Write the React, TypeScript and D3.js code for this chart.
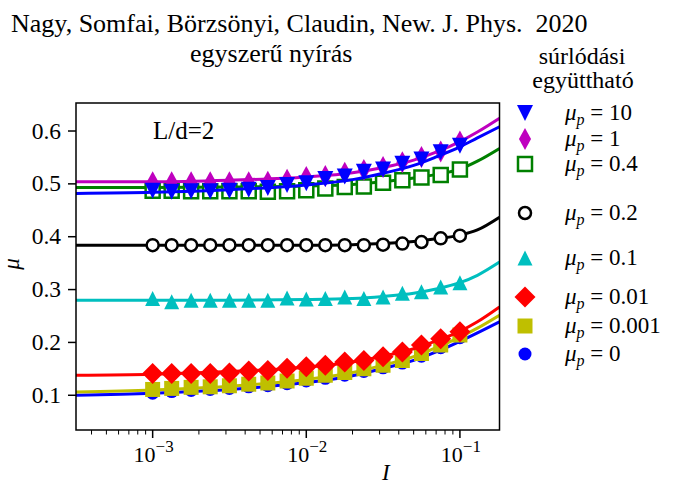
import { FC } from 'react';
import * as d3 from 'd3';

// inertial number at which the markers were measured
const markerI = [0.001, 0.00133, 0.00178, 0.00237, 0.00316, 0.00422, 0.00562, 0.0075, 0.01,
  0.0133, 0.0178, 0.0237, 0.0316, 0.0422, 0.0562, 0.075, 0.1];

// sample points of the fitted curves
const lineI = [0.000317, 0.001, 0.00316, 0.01, 0.02, 0.0316, 0.05, 0.07, 0.1, 0.13, 0.181];

const labels = ['10', '1', '0.4', '0.2', '0.1', '0.01', '0.001', '0'];

const pts10 = [0.487, 0.485, 0.486, 0.486, 0.487, 0.489, 0.492, 0.498, 0.501, 0.509, 0.514, 0.523, 0.527, 0.538, 0.546, 0.560, 0.572];
const pts1 = [0.503, 0.503, 0.503, 0.503, 0.503, 0.503, 0.504, 0.508, 0.513, 0.515, 0.521, 0.526, 0.532, 0.541, 0.551, 0.561, 0.580];
const pts04 = [0.487, 0.487, 0.486, 0.486, 0.486, 0.486, 0.485, 0.486, 0.488, 0.491, 0.494, 0.495, 0.502, 0.507, 0.512, 0.517, 0.527];
const pts02 = [0.384, 0.384, 0.384, 0.384, 0.384, 0.384, 0.384, 0.384, 0.384, 0.384, 0.384, 0.384, 0.385, 0.387, 0.390, 0.397, 0.402];
const pts01 = [0.283, 0.277, 0.280, 0.280, 0.280, 0.280, 0.280, 0.284, 0.282, 0.283, 0.286, 0.283, 0.286, 0.293, 0.296, 0.305, 0.313];
const pts001 = [0.141, 0.141, 0.141, 0.141, 0.142, 0.146, 0.147, 0.151, 0.154, 0.157, 0.163, 0.166, 0.173, 0.182, 0.195, 0.207, 0.220];
const pts0001 = [0.111, 0.113, 0.115, 0.116, 0.118, 0.121, 0.123, 0.127, 0.132, 0.138, 0.143, 0.150, 0.157, 0.166, 0.179, 0.195, 0.214];
const pts0 = [0.104, 0.107, 0.109, 0.111, 0.113, 0.116, 0.118, 0.122, 0.127, 0.132, 0.138, 0.145, 0.152, 0.161, 0.174, 0.190, 0.209];

const fit10 = [0.482, 0.484, 0.489, 0.498, 0.508, 0.520, 0.535, 0.551, 0.570, 0.587, 0.608];
const fit1 = [0.504, 0.504, 0.507, 0.513, 0.521, 0.531, 0.545, 0.560, 0.580, 0.598, 0.624];
const fit04 = [0.493, 0.493, 0.494, 0.496, 0.499, 0.504, 0.511, 0.518, 0.528, 0.543, 0.567];
const fit02 = [0.384, 0.384, 0.384, 0.384, 0.385, 0.387, 0.391, 0.396, 0.403, 0.413, 0.437];
const fit01 = [0.280, 0.280, 0.280, 0.281, 0.283, 0.287, 0.293, 0.301, 0.313, 0.327, 0.352];
const fit001 = [0.138, 0.140, 0.145, 0.153, 0.163, 0.174, 0.188, 0.203, 0.221, 0.239, 0.267];
const fit0001 = [0.106, 0.110, 0.117, 0.130, 0.143, 0.157, 0.173, 0.190, 0.210, 0.227, 0.2515];
const fit0 = [0.100, 0.104, 0.111, 0.124, 0.137, 0.151, 0.166, 0.182, 0.202, 0.218, 0.239];

const yTicks = [0.1, 0.2, 0.3, 0.4, 0.5, 0.6];
const xMajor = [0.001, 0.01, 0.1];
const xMajorExp = ['−3', '−2', '−1'];

const FONT = '"Liberation Serif", "Times New Roman", serif';

type Shape = 'tdown' | 'tup' | 'thin' | 'diamond' | 'square' | 'circle';

// marker outline centred on (0,0)
const markerPath = (shape: Shape, s: number) => {
  const h = s / 2;
  switch (shape) {
    case 'tdown':
      return `M${-h},${-h}L${h},${-h}L0,${h}Z`;
    case 'tup':
      return `M${-h},${h}L${h},${h}L0,${-h}Z`;
    case 'thin':
      return `M0,${-h}L${h * 0.55},0L0,${h}L${-h * 0.55},0Z`;
    case 'diamond':
      return `M0,${-h}L${h},0L0,${h}L${-h},0Z`;
    case 'square':
      return `M${-h},${-h}H${h}V${h}H${-h}Z`;
    default:
      return `M${-h},0A${h},${h} 0 1,0 ${h},0A${h},${h} 0 1,0 ${-h},0Z`;
  }
};

interface Series {
  label: string;
  pts: number[];
  fit: number[];
  color: string;
  shape: Shape;
  size: number;
  open?: boolean;
  legendY: number;
}

// drawing order: bottom to top
const series: Series[] = [
  { label: labels[7], pts: pts0, fit: fit0, color: '#0000ff', shape: 'circle', size: 13, legendY: 354 },
  { label: labels[6], pts: pts0001, fit: fit0001, color: '#bfbf00', shape: 'square', size: 15, legendY: 326 },
  { label: labels[5], pts: pts001, fit: fit001, color: '#ff0000', shape: 'diamond', size: 21, legendY: 297 },
  { label: labels[4], pts: pts01, fit: fit01, color: '#00bfbf', shape: 'tup', size: 15, legendY: 258 },
  { label: labels[3], pts: pts02, fit: fit02, color: '#000000', shape: 'circle', size: 12, open: true, legendY: 213 },
  { label: labels[2], pts: pts04, fit: fit04, color: '#008000', shape: 'square', size: 14, open: true, legendY: 164 },
  { label: labels[1], pts: pts1, fit: fit1, color: '#bf00bf', shape: 'thin', size: 22, legendY: 139 },
  { label: labels[0], pts: pts10, fit: fit10, color: '#0000ff', shape: 'tdown', size: 16, legendY: 113 },
];

const W = 676;
const H = 485;
const left = 76;
const right = 499.5;
const top = 103;
const bottom = 430;

const App: FC = () => {
  const x = d3.scaleLog().domain([3.17e-4, 0.181]).range([left, right]);
  const y = d3.scaleLinear().domain([0.0343, 0.653]).range([bottom, top]);
  const minor = x.ticks().filter(t => !xMajor.some(m => Math.abs(m - t) / m < 1e-6));

  const line = d3
    .line<[number, number]>()
    .x(d => x(d[0]))
    .y(d => y(d[1]))
    .curve(d3.curveMonotoneX);

  const marker = (s: Series, cx: number, cy: number, key: string) => (
    <path
      key={key}
      d={markerPath(s.shape, s.size)}
      transform={`translate(${cx},${cy})`}
      fill={s.open ? 'white' : s.color}
      stroke={s.color}
      strokeWidth={s.open ? 2.5 : 0}
    />
  );

  return (
    <svg width={W} height={H} style={{ position: 'absolute', left: 0, top: 0, background: 'white' }} fontFamily={FONT}>
      <text x={11} y={32} fontSize={26}>Nagy, Somfai, Börzsönyi, Claudin, New. J. Phys.&#160;&#160;2020</text>
      <text x={190} y={62} fontSize={26}>egyszerű nyírás</text>
      <text x={582} y={64} fontSize={24} textAnchor="middle">súrlódási</text>
      <text x={583} y={88} fontSize={24} textAnchor="middle">együttható</text>

      <defs>
        <clipPath id="plot">
          <rect x={left} y={top} width={right - left} height={bottom - top} />
        </clipPath>
      </defs>

      <g clipPath="url(#plot)">
        {series.map(s => (
          <g key={s.label}>
            <path
              d={line(lineI.map((v, i) => [v, s.fit[i]] as [number, number])) ?? ''}
              fill="none"
              stroke={s.color}
              strokeWidth={3}
            />
            {s.pts.map((v, i) => marker(s, x(markerI[i]), y(v), `${s.label}-${i}`))}
          </g>
        ))}
      </g>

      <text x={153} y={139} fontSize={25}>L/d=2</text>

      <rect x={left} y={top} width={right - left} height={bottom - top} fill="none" stroke="black" strokeWidth={1.5} />

      {yTicks.map(t => (
        <g key={t}>
          <line x1={left - 8} x2={left} y1={y(t)} y2={y(t)} stroke="black" strokeWidth={1.5} />
          <text x={left - 15} y={y(t) + 7.5} fontSize={23.5} textAnchor="end">{t.toFixed(1)}</text>
        </g>
      ))}
      {minor.map(t => (
        <line key={t} x1={x(t)} x2={x(t)} y1={bottom} y2={bottom + 4.5} stroke="black" strokeWidth={1} />
      ))}
      {xMajor.map((t, i) => (
        <g key={t}>
          <line x1={x(t)} x2={x(t)} y1={bottom} y2={bottom + 8} stroke="black" strokeWidth={1.5} />
          <text x={x(t) + 1} y={462} fontSize={22} textAnchor="middle">
            10<tspan fontSize={17} dy={-10}>{xMajorExp[i]}</tspan>
          </text>
        </g>
      ))}
      <text x={382} y={480} fontSize={23} fontStyle="italic">I</text>
      <text transform="translate(19,264) rotate(-90)" fontSize={23} fontStyle="italic" textAnchor="middle">μ</text>

      {series.map(s => (
        <g key={`lg-${s.label}`}>
          {marker(s, 525, s.legendY, `lgm-${s.label}`)}
          <text x={565} y={s.legendY + 7} fontSize={23}>
            <tspan fontStyle="italic">μ</tspan>
            <tspan fontStyle="italic" fontSize={16} dy={5}>p</tspan>
            <tspan dy={-5}>{` = ${s.label}`}</tspan>
          </text>
        </g>
      ))}
    </svg>
  );
};

export default App;
